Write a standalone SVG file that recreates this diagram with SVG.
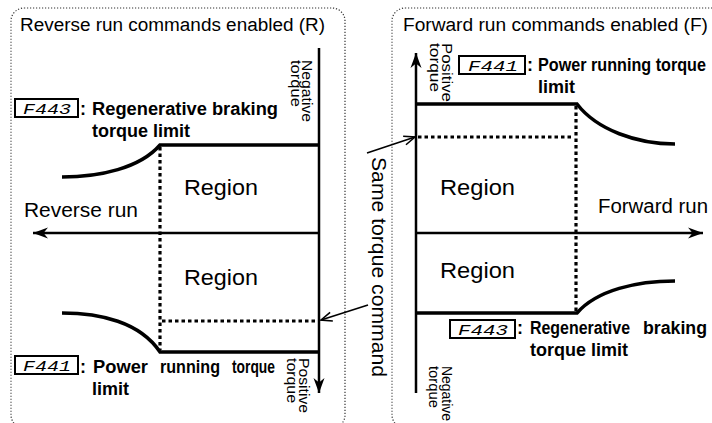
<svg xmlns="http://www.w3.org/2000/svg" width="712" height="423" viewBox="0 0 712 423">
<style>
.panel{fill:none;stroke:#333;stroke-width:1.2;stroke-dasharray:1.2 1.8}
.axis{fill:none;stroke:#000;stroke-width:2.5}
.lim{fill:none;stroke:#000;stroke-width:3.5}
.dot{fill:none;stroke:#000;stroke-width:3.2;stroke-dasharray:3.5 3}
.ptr{fill:none;stroke:#000;stroke-width:1.6}
.t{font-family:"Liberation Sans",Arial,sans-serif;fill:#000}
.title{font-size:18px}
.reg{font-size:22px}
.dir{font-size:20px}
.small{font-size:14px}
.b{font-size:18px;font-weight:bold}
.code{font-family:"Liberation Mono","DejaVu Sans Mono",monospace;font-style:italic;font-size:15px;fill:#000}
.box{fill:#fff;stroke:#000;stroke-width:2}
</style>
<defs>
<marker id="ah" markerUnits="userSpaceOnUse" markerWidth="20" markerHeight="14" viewBox="-16 -7 18 14" refX="0" refY="0" orient="auto">
<path d="M0,0 L-15,-5.5 L-10.5,0 L-15,5.5 Z" fill="#000"/>
</marker>
<marker id="oh" markerUnits="userSpaceOnUse" markerWidth="16" markerHeight="12" viewBox="-13 -6 15 12" refX="0" refY="0" orient="auto">
<path d="M-11,-4.5 L0,0 L-11,4.5" fill="none" stroke="#000" stroke-width="1.6"/>
</marker>
</defs>

<g id="panel-reverse">
<rect class="panel" x="11" y="8" width="334" height="420" rx="13"/>
<text class="t title" x="20" y="31" textLength="305" lengthAdjust="spacingAndGlyphs">Reverse run commands enabled (R)</text>
</g>
<g id="panel-forward">
<rect class="panel" x="392" y="8" width="340" height="420" rx="13"/>
<text class="t title" x="403" y="31" textLength="305" lengthAdjust="spacingAndGlyphs">Forward run commands enabled (F)</text>
</g>

<g id="connectors">
<line class="axis" x1="319" y1="48" x2="319" y2="393" marker-end="url(#ah)"/>
<line class="axis" x1="319" y1="233" x2="33" y2="233" marker-end="url(#ah)"/>
<line class="axis" x1="416" y1="393" x2="416" y2="53" marker-end="url(#ah)"/>
<line class="axis" x1="416" y1="233" x2="703" y2="233" marker-end="url(#ah)"/>

<path class="lim" d="M62,177 C100,177 140,168 160,145 L319,145"/>
<path class="lim" d="M62,313 C100,313 140,322 160,352 L319,352"/>
<path class="lim" d="M416,104 L577,104 C597,130 637,144 675,144"/>
<path class="lim" d="M416,313 L577,313 C597,290 637,281 675,281"/>

<path class="dot" d="M160,147 L160,350"/>
<path class="dot" d="M162,321 L318,321"/>
<path class="dot" d="M576,106 L576,311"/>
<path class="dot" d="M418,137 L574,137"/>

<line class="ptr" x1="367" y1="153" x2="415" y2="137" marker-end="url(#oh)"/>
<line class="ptr" x1="368" y1="305" x2="321" y2="320" marker-end="url(#oh)"/>
</g>

<g id="same-torque-label">
<text class="t" font-size="20" transform="translate(372,157) rotate(90)" textLength="220" lengthAdjust="spacingAndGlyphs">Same torque command</text>
</g>

<g id="reverse-labels">
<text class="t small" transform="translate(302,60) rotate(90)" textLength="62" lengthAdjust="spacingAndGlyphs">Negative</text>
<text class="t small" transform="translate(291,60) rotate(90)" textLength="47" lengthAdjust="spacingAndGlyphs">torque</text>
<text class="t small" transform="translate(299,358) rotate(90)" textLength="55" lengthAdjust="spacingAndGlyphs">Positive</text>
<text class="t small" transform="translate(287,358) rotate(90)" textLength="45" lengthAdjust="spacingAndGlyphs">torque</text>
<text class="t dir" x="24" y="217" textLength="114" lengthAdjust="spacingAndGlyphs">Reverse run</text>
<text class="t reg" x="184" y="195" textLength="74" lengthAdjust="spacingAndGlyphs">Region</text>
<text class="t reg" x="184" y="285" textLength="74" lengthAdjust="spacingAndGlyphs">Region</text>
</g>

<g id="reverse-F443">
<rect class="box" x="15" y="99" width="63" height="18"/>
<text class="code" x="23" y="114" textLength="48" lengthAdjust="spacingAndGlyphs">F443</text>
<text class="t b" x="80" y="115">:</text>
<text class="t b" x="92" y="115" textLength="186" lengthAdjust="spacingAndGlyphs">Regenerative braking</text>
<text class="t b" x="92" y="137">torque limit</text>
</g>

<g id="reverse-F441">
<rect class="box" x="15" y="356" width="63" height="18"/>
<text class="code" x="23" y="371" textLength="48" lengthAdjust="spacingAndGlyphs">F441</text>
<text class="t b" x="80" y="373">:</text>
<text class="t b" x="93" y="373" textLength="55" lengthAdjust="spacingAndGlyphs">Power</text>
<text class="t b" x="160" y="373" textLength="60" lengthAdjust="spacingAndGlyphs">running</text>
<text class="t b" x="232" y="373" textLength="43" lengthAdjust="spacingAndGlyphs">torque</text>
<text class="t b" x="92" y="395">limit</text>
</g>

<g id="forward-labels">
<text class="t small" transform="translate(442,43) rotate(90)" textLength="59" lengthAdjust="spacingAndGlyphs">Positive</text>
<text class="t small" transform="translate(430,43) rotate(90)" textLength="49" lengthAdjust="spacingAndGlyphs">torque</text>
<text class="t small" transform="translate(442,366) rotate(90)" textLength="55" lengthAdjust="spacingAndGlyphs">Negative</text>
<text class="t small" transform="translate(429,366) rotate(90)" textLength="42" lengthAdjust="spacingAndGlyphs">torque</text>
<text class="t dir" x="598" y="213" textLength="110" lengthAdjust="spacingAndGlyphs">Forward run</text>
<text class="t reg" x="440" y="195" textLength="75" lengthAdjust="spacingAndGlyphs">Region</text>
<text class="t reg" x="440" y="278" textLength="75" lengthAdjust="spacingAndGlyphs">Region</text>
</g>

<g id="forward-F441">
<rect class="box" x="459" y="56" width="66" height="18"/>
<text class="code" x="468" y="71" textLength="50" lengthAdjust="spacingAndGlyphs">F441</text>
<text class="t b" x="527" y="71">:</text>
<text class="t b" x="538" y="71" font-size="16.5" textLength="168" lengthAdjust="spacingAndGlyphs">Power running torque</text>
<text class="t b" x="538" y="93">limit</text>
</g>

<g id="forward-F443">
<rect class="box" x="450" y="320" width="65" height="18"/>
<text class="code" x="458" y="335" textLength="50" lengthAdjust="spacingAndGlyphs">F443</text>
<text class="t b" x="517" y="334">:</text>
<text class="t b" x="530" y="334" textLength="100" lengthAdjust="spacingAndGlyphs">Regenerative</text>
<text class="t b" x="643" y="334" textLength="64" lengthAdjust="spacingAndGlyphs">braking</text>
<text class="t b" x="530" y="356">torque limit</text>
</g>
</svg>
